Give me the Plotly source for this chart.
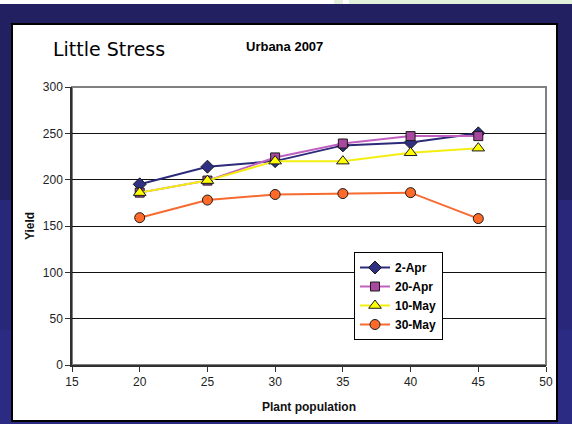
import plotly.graph_objects as go

W, H = 572, 424

population = [20, 25, 30, 35, 40, 45]
apr2 = [195, 214, 220, 237, 240, 250]
apr20 = [186, 199, 224, 239, 247, 247]
may10 = [186, 199, 220, 220, 229, 234]
may30 = [159, 178, 184, 185, 186, 158]

series_names = ["2-Apr", "20-Apr", "10-May", "30-May"]
series_vals = [apr2, apr20, may10, may30]
line_colors = ["#2b2b7a", "#c060c0", "#f4ee10", "#f76a30"]
marker_fills = ["#303082", "#a8489f", "#ffff00", "#ff6a28"]
symbols = ["diamond", "square", "triangle-up", "circle"]
sizes = [10, 9, 11, 10]

title_main = "Little Stress"
title_sub = "Urbana 2007"
x_title = "Plant population"
y_title = "Yield"


def px(x):
    return x / W


def py(y):
    return 1 - y / H


fig = go.Figure()
for name, vals, lc, mf, sym, sz in zip(series_names, series_vals, line_colors,
                                       marker_fills, symbols, sizes):
    fig.add_trace(go.Scatter(
        x=population, y=vals, name=name, mode="lines+markers",
        line=dict(color=lc, width=2),
        marker=dict(symbol=sym, size=sz, color=mf,
                    line=dict(color="#1a1a1a", width=1)),
    ))

shapes = [
    # top white strip
    dict(type="rect", xref="paper", yref="paper", x0=0, x1=1, y0=py(4), y1=1,
         fillcolor="white", line=dict(width=0), layer="below"),
    dict(type="rect", xref="paper", yref="paper", x0=px(334), x1=px(343), y0=py(4), y1=1,
         fillcolor="#e2f0dc", line=dict(width=0), layer="below"),
    dict(type="rect", xref="paper", yref="paper", x0=px(349), x1=1, y0=py(4), y1=1,
         fillcolor="#e2f0dc", line=dict(width=0), layer="below"),
    # lower lighter navy bands
    dict(type="rect", xref="paper", yref="paper", x0=0, x1=1, y0=0, y1=py(200),
         fillcolor="#28277a", line=dict(width=0), layer="below"),
    dict(type="rect", xref="paper", yref="paper", x0=0, x1=1, y0=0, y1=py(330),
         fillcolor="#2c2b84", line=dict(width=0), layer="below"),
    # white panel
    dict(type="rect", xref="paper", yref="paper", x0=px(12), x1=px(557), y0=py(421), y1=py(24),
         fillcolor="white", line=dict(color="black", width=2), layer="below"),
    # plot area border (gray)
    dict(type="rect", xref="paper", yref="paper", x0=px(72), x1=px(546), y0=py(365), y1=py(87),
         fillcolor="rgba(0,0,0,0)", line=dict(color="#808080", width=2), layer="below"),
]

fig.update_layout(
    width=W, height=H,
    margin=dict(l=0, r=0, t=0, b=0),
    paper_bgcolor="#222060",
    plot_bgcolor="white",
    font=dict(family="Liberation Sans, Arial", color="#111"),
    shapes=shapes,
    showlegend=True,
    legend=dict(
        x=px(354), y=py(252), xanchor="left", yanchor="top",
        bgcolor="white", bordercolor="black", borderwidth=1,
        font=dict(family="Liberation Sans, Arial", size=12, color="black", weight="bold"),
        tracegroupgap=0, itemwidth=30,
    ),
    xaxis=dict(
        domain=[px(72), px(546)], range=[15, 50], dtick=5, tick0=15,
        showgrid=False, zeroline=False,
        showline=True, linecolor="#303030", linewidth=1.5,
        ticks="outside", ticklen=5, tickcolor="#303030",
        tickfont=dict(size=12, color="#222"),
        title=dict(text=x_title, font=dict(size=12, weight="bold", color="#111"), standoff=14),
        automargin=False, fixedrange=True,
    ),
    yaxis=dict(
        domain=[py(365), py(87)], range=[0, 300], dtick=50,
        showgrid=True, gridcolor="#111", gridwidth=1, zeroline=False,
        showline=True, linecolor="#303030", linewidth=1.5,
        ticks="outside", ticklen=5, tickcolor="#303030",
        tickfont=dict(size=12, color="#222"),
        title=dict(text=y_title, font=dict(size=12, weight="bold", color="#111"), standoff=6),
        automargin=False, fixedrange=True,
    ),
    annotations=[
        dict(text=title_main, xref="paper", yref="paper", x=px(51), y=py(49),
             xanchor="left", yanchor="middle", showarrow=False,
             font=dict(family="DejaVu Sans", size=19, color="black")),
        dict(text=title_sub, xref="paper", yref="paper", x=px(284), y=py(46),
             xanchor="center", yanchor="middle", showarrow=False,
             font=dict(family="Liberation Sans, Arial", size=13, color="black", weight="bold")),
    ],
)

fig.write_html(
    "out.html",
    config={"displayModeBar": False, "staticPlot": False},
    post_script="document.body.style.margin='0';document.body.style.overflow='hidden';",
)
